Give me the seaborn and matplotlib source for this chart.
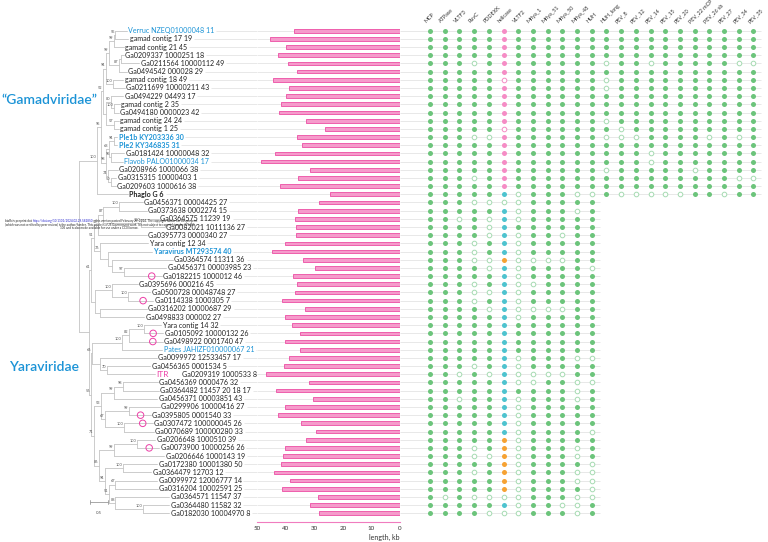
import numpy as np
import pandas as pd
import seaborn as sns
import matplotlib.pyplot as plt

sns.set_style('white')
plt.rcParams['font.family'] = ['Lato', 'DejaVu Sans']

# ---- data -------------------------------------------------------------
labels = [
    "Verruc NZEQ01000048 11", "gamad contig 17 19", "gamad contig 21 45",
    "Ga0209337 1000251 18", "Ga0211564 10000112 49", "Ga0494542 000028 29",
    "gamad contig 18 49", "Ga0211699 10000211 43", "Ga0494229 04493 17",
    "gamad contig 2 35", "Ga0494180 0000023 42", "gamad contig 24 24",
    "gamad contig 1 25", "Ple1b KY203336 30", "Ple2 KY346835 31",
    "Ga0181424 10000048 32", "Flavob PALO01000034 17", "Ga0208966 1000066 38",
    "Ga0315315 10000403 1", "Ga0209603 1000616 38", "Phaglo G 6",
    "Ga0456371 00004425 27", "Ga0373638 0002274 15", "Ga0364575 11239 19",
    "Ga0082021 1011136 27", "Ga0395773 0000340 27", "Yara contig 12 34",
    "Yaravirus MT293574 40", "Ga0364574 11311 36", "Ga0456371 00003985 23",
    "Ga0182215 1000012 46", "Ga0395696 000216 45", "Ga0500728 00048748 27",
    "Ga0114338 1000305 7", "Ga0316202 10000687 29", "Ga0498833 000002 27",
    "Yara contig 14 32", "Ga0105092 10000132 26", "Ga0498922 0001740 47",
    "Pates JAHIZF010000067 21", "Ga0099972 12533457 17", "Ga0456365 0001534 5",
    "Ga0209319 1000533 8", "Ga0456369 0000476 32", "Ga0364482 11457 20 18 17",
    "Ga0456371 00003851 43", "Ga0299906 10000416 27", "Ga0395805 0001540 33",
    "Ga0307472 100000045 26", "Ga0070689 100000280 33", "Ga0206648 1000510 39",
    "Ga0073900 10000256 26", "Ga0206646 1000143 19", "Ga0172380 10001380 50",
    "Ga0364479 12703 12", "Ga0099972 12006777 14", "Ga0316204 10002591 25",
    "Ga0364571 11547 37", "Ga0364480 11582 32", "Ga0182030 10004970 8",
]

lengths = [
    37.0, 45.4, 39.8, 42.6, 39.1, 36.0, 44.5, 38.8, 40.1, 41.6,
    42.3, 33.1, 26.2, 36.1, 34.2, 43.8, 48.7, 31.5, 35.7, 41.9,
    24.6, 28.3, 35.6, 36.8, 36.3, 36.3, 40.2, 44.7, 33.9, 29.7,
    37.6, 36.1, 36.7, 41.2, 33.2, 40.2, 37.7, 35.0, 40.2, 34.9,
    38.9, 40.5, 46.8, 31.8, 43.3, 30.4, 40.2, 42.6, 34.6, 29.6,
    32.8, 40.2, 41.0, 41.6, 44.0, 38.7, 41.5, 28.6, 31.7, 28.3,
]

blue_rows = [0, 16, 39]
blue_bold_rows = [13, 14, 27]
black_bold_rows = [20]
circle_rows = [30, 33, 37, 38, 47, 48, 51]
itr_row = 42

genes = ["MCP", "ATPase", "VLTF3", "RuvC", "PDDEXK", "helicase", "VLTF2",
         "Mriya_1", "Mriya_51", "Mriya_50", "Mriya_48", "HUH", "HUH_long",
         "PEV_8", "PEV_12", "PEV_14", "PEV_15", "PEV_20", "PEV_22 mCP",
         "PEV_26 sb", "PEV_27", "PEV_34", "PEV_35"]

# 1 = present, 0 = absent, P/p = helicase (pink) present/absent,
# T = helicase teal, O = helicase orange
presence = [
    "11111P11111111111111111", "11111P11111111111111111",
    "11111P11111111111111111", "11111P11111111111111111",
    "11101P11111101101111100", "11111P11111111111111111",
    "11111p11111101111111111", "11111P11111101111111111",
    "11111P11111111111111111", "11111P11111111111111111",
    "11111P11111111111111111", "11111P11111101111111111",
    "11111p11111110111111111", "11100P11111100011110101",
    "11111P11111111111111111", "11111P11111111101111111",
    "11111P11111111101111111", "11111P11111101111101111",
    "11101P11111111111111100", "11111P11111111111111111",
    "11111T01110010000011011",
    "111000011111", "11111T011101", "11010T011111", "11110T111111",
    "11110T011011", "11101T011111", "11101T011111", "11100O000011",
    "11110T011110", "11111T011111", "11101T001111", "11100T011111",
    "11101T011111", "11110T000011", "11111T011111", "11111T111111",
    "11111T111111", "11111T111111", "11111T111111", "11111T011100",
    "11101T011111", "11010T000011", "11111T001100", "11111T111101",
    "11011T011101", "11111T011111", "11111T011111", "11111T011111",
    "11111T011110", "11111O011111", "11101O011101", "11100O011101",
    "11111O011110", "11101O011100", "11111O011100", "11111O011110",
    "101000011100", "11111T011001", "111100011101",
]

# tree (Newick, branch lengths in substitutions/site, node labels = bootstrap)
gamad_a = ("((((0:0.31,1:0.36)55:0.04,2:0.27)99:0.14,((3:0.08,4:0.51):0.06,5:0.21)87:0.28)99:0.08,"
           "(6:0.29,7:0.33)100:0.19)94:0.08")
gamad_b = "((8:0.34,(9:0.17,10:0.13)100:0.08)80:0.14,(11:0.14,12:0.14)57:0.22):0.08"
gamad_c = ("(((13:0.09,14:0.09)94:0.15,(15:0.38,16:0.34)95:0.06)68:0.07,"
           "(17:0.27,(18:0.15,19:0.14)50:0.07)74:0.06)98:0.14")
gamad = "(((" + gamad_a + "," + gamad_b + ")52:0.06," + gamad_c + ")95:0.11,20:0.86)100:0.50"

yara_a = ("((((21:0.67,22:0.78)100:0.42,(23:0.51,24:0.68)100:1.03)87:0.15,25:1.35)53:0.11,"
          "(26:1.35,(27:1.23,(28:1.69,(29:1.18,30:1.06)97:0.32):0.11):0.24)76:0.15)51:0.08")
yara_b = "((31:0.72,(32:0.61,33:0.69)100:0.46)100:0.46,(34:1.30,35:1.22):0.14):0.11"
yara_c = ("((((36:0.49,37:0.54)100:0.42,38:0.95)82:0.19,39:1.12)100:0.83,"
          "(40:1.58,(41:1.21,42:1.33)70:0.19):0.22)66:0.04")
yara_d = ("(((43:0.97,44:1.00)98:0.26,45:1.22)99:0.35,((46:0.86,47:0.60)99:0.67,"
          "(48:0.80,49:0.83)100:0.53)67:0.11)53:0.19")
yara_e = ("(((50:0.50,51:0.61)100:0.64,52:1.39)99:0.42,((53:0.94,54:0.78)100:0.50,"
          "((55:1.16,56:1.18)67:0.18,(57:1.50,(58:0.74,59:0.74)100:0.76)88:0.18)51:0.10)94:0.17)86:0.14")
yara = ("((" + yara_a + "," + yara_b + ")61:0.06,(" + yara_c + ",(" + yara_d + "," + yara_e
        + ")71:0.10)56:0.04):0.28")
newick = "(" + gamad + "," + yara + ");"

# ---- colours ----------------------------------------------------------
BLUE = '#1b93d6'
GREEN = '#6cc47b'
GREEN_OPEN = '#a6dbb2'
PINK = '#f58cc5'
TEAL = '#4ec3cf'
ORANGE = '#f6a233'
BAR_FILL = '#f59bcb'
BAR_EDGE = '#ec4ea4'
LINE = '#e4e4e4'
TREE = '#c4c4c4'
MAGENTA = '#ec3fa7'


def parse(s):
    pos = 0

    def node():
        nonlocal pos
        kids = []
        if s[pos] == '(':
            pos += 1
            kids.append(node())
            while s[pos] == ',':
                pos += 1
                kids.append(node())
            pos += 1
        j = pos
        while s[pos] not in ':,();':
            pos += 1
        name = s[j:pos]
        bl = 0.0
        if s[pos] == ':':
            pos += 1
            j = pos
            while s[pos] not in ',();':
                pos += 1
            bl = float(s[j:pos])
        return {'name': name, 'len': bl, 'kids': kids}

    return node()


def layout(n, x0=0.0):
    n['x'] = x0 + n['len']
    if n['kids']:
        for k in n['kids']:
            layout(k, n['x'])
        n['y'] = (n['kids'][0]['y'] + n['kids'][-1]['y']) / 2
    else:
        n['y'] = int(n['name'])


root = parse(newick)
root['len'] = 0.0
layout(root)

# ---- figure -----------------------------------------------------------
W, H = 768, 542
fig = plt.figure(figsize=(W / 100, H / 100), dpi=100)
row0, step = 30.7, 8.18
ytop, ybot = row0 - step / 2, row0 + 59 * step + step / 2
bottom, height = 1 - ybot / H, (ybot - ytop) / H

x_root, unit = 79.0, 36.0
x_bar0, x_bar1 = 257.3, 400.0
ax_tree = fig.add_axes([0, bottom, x_bar0 / W, height])
ax_bar = fig.add_axes([x_bar0 / W, bottom, (x_bar1 - x_bar0) / W, height])
ax_dot = fig.add_axes([x_bar1 / W, bottom, (W - x_bar1) / W, height])
for a in (ax_tree, ax_bar, ax_dot):
    a.set_ylim(59.5, -0.5)
    a.patch.set_alpha(0)

# tree
ax_tree.set_xlim(-x_root / unit, (x_bar0 - x_root) / unit)
ax_tree.axis('off')


def draw(n):
    if not n['kids']:
        return
    ys = [k['y'] for k in n['kids']]
    ax_tree.plot([n['x'], n['x']], [min(ys), max(ys)], color=TREE, lw=0.6)
    for k in n['kids']:
        ax_tree.plot([n['x'], k['x']], [k['y'], k['y']], color=TREE, lw=0.6)
        draw(k)
    if n['name']:
        ax_tree.text(n['x'] - 0.015, n['y'] - 0.4, n['name'], fontsize=2.8,
                     color='#555555', ha='right', va='center')


draw(root)

tips = {}


def collect(n):
    if n['kids']:
        for k in n['kids']:
            collect(k)
    else:
        tips[int(n['name'])] = n['x']


collect(root)

name_texts = {}
for i, lab in enumerate(labels):
    color, weight = '#222222', 'normal'
    if i in blue_rows:
        color = BLUE
    if i in blue_bold_rows:
        color, weight = BLUE, 'bold'
    if i in black_bold_rows:
        weight = 'bold'
    x = tips[i] + 0.04
    if i == itr_row:
        itr = ax_tree.text(x, i, 'ITR', fontsize=6, color=MAGENTA, va='center')
        t = ax_tree.annotate(lab, xy=(1, 0.5), xycoords=itr, xytext=(10, 0),
                             textcoords='offset points', fontsize=5.1, va='center',
                             color=color)
    else:
        t = ax_tree.text(x, i, lab, fontsize=5.1, color=color, fontweight=weight,
                         va='center')
    name_texts[i] = t

ax_tree.scatter([tips[i] - 0.28 for i in circle_rows], circle_rows, s=22,
                facecolors='none', edgecolors=MAGENTA, linewidths=0.7, zorder=3)

# scale bar
ax_tree.plot([0.31, 0.81], [57.6, 57.6], color='#999999', lw=0.6)
ax_tree.plot([0.31, 0.31], [57.4, 57.8], color='#999999', lw=0.6)
ax_tree.plot([0.81, 0.81], [57.4, 57.8], color='#999999', lw=0.6)
ax_tree.text(0.56, 58.9, '0.5', fontsize=3.2, color='#555555', ha='center', va='center')

# bars
df_bar = pd.DataFrame({'row': np.arange(len(lengths)), 'length': lengths})
ax_bar.hlines(df_bar['row'], 50, 0, color=LINE, lw=0.6, zorder=0)
sns.barplot(data=df_bar, x='length', y='row', orient='h', color=BAR_FILL,
            saturation=1, edgecolor=BAR_EDGE, linewidth=0.6, width=0.45, ax=ax_bar)
ax_bar.set_xlim(50, 0)
ax_bar.set_ylim(59.5, -0.5)
ax_bar.set_yticks([])
ax_bar.set_ylabel('')
ax_bar.set_xticks([50, 40, 30, 20, 10, 0])
for s in ('left', 'top', 'right'):
    ax_bar.spines[s].set_visible(False)
ax_bar.spines['bottom'].set_color('#f07cbf')
ax_bar.spines['bottom'].set_linewidth(0.8)
ax_bar.spines['bottom'].set_position(('outward', 3))
ax_bar.tick_params(axis='x', direction='in', length=2.5, width=0.7, color='#f07cbf',
                   labelsize=4.5, labelcolor='#333333', pad=3)
ax_bar.set_xlabel('length, kb', loc='right', fontsize=5, color='#333333', labelpad=2)

# gene presence matrix
recs = []
for r, code in enumerate(presence):
    for c, ch in enumerate(code):
        recs.append({'row': r, 'col': c, 'state': ch})
df_dot = pd.DataFrame(recs)
xlo, xhi = -30 / 14.7, (W - 430) / 14.7
for r, code in enumerate(presence):
    ax_dot.hlines(r, xlo, len(code) - 1 + 0.55, color=LINE, lw=0.6, zorder=0)

filled = {'1': GREEN, 'P': PINK, 'T': TEAL, 'O': ORANGE}
opened = {'0': GREEN_OPEN, 'p': PINK}
for st, col in filled.items():
    sub = df_dot[df_dot['state'] == st]
    sns.scatterplot(data=sub, x='col', y='row', color=col, s=13, linewidth=0,
                    legend=False, ax=ax_dot, zorder=3)
for st, col in opened.items():
    sub = df_dot[df_dot['state'] == st]
    sns.scatterplot(data=sub, x='col', y='row', color='white', edgecolor=col,
                    s=11, linewidth=0.7, legend=False, ax=ax_dot, zorder=3)
ax_dot.set_xlim(xlo, xhi)
ax_dot.set_ylim(59.5, -0.5)
ax_dot.axis('off')
for c, g in enumerate(genes):
    ax_dot.text(c - 0.2, -0.8, g, rotation=45, rotation_mode='anchor', ha='left',
                va='bottom', fontsize=3.9, color='#333333', clip_on=False)

# row guide lines after the labels
fig.canvas.draw()
rend = fig.canvas.get_renderer()
inv = ax_tree.transData.inverted()
xr = ax_tree.get_xlim()[1]
for i, t in name_texts.items():
    bb = t.get_window_extent(rend)
    x_end = inv.transform((bb.x1, bb.y0))[0]
    ax_tree.hlines(i, x_end + 0.05, xr, color=LINE, lw=0.6, zorder=0)

# clade titles
fig.text(1 / W, 1 - 100 / H, '\u201cGamadviridae\u201d', fontsize=10, color=BLUE,
         fontweight='semibold', ha='left', va='center')
fig.text(9 / W, 1 - 367 / H, 'Yaraviridae', fontsize=10, color=BLUE,
         fontweight='semibold', ha='left', va='center')

# preprint stamp
wm1 = fig.text(5 / W, 1 - 221 / H, 'bioRxiv preprint doi: ', fontsize=2.2,
               color='#222222', va='center')
link = ax_tree.annotate('https://doi.org/10.1101/2024.02.29.582850', xy=(1, 0.5),
                        xycoords=wm1, fontsize=2.2, color='#2222cc', va='center')
ax_tree.annotate('; this version posted February 29, 2024. The copyright holder for this preprint',
                 xy=(1, 0.5), xycoords=link, fontsize=2.2, color='#222222', va='center')
fig.text(5 / W, 1 - 224.5 / H,
         '(which was not certified by peer review) is the author/funder. This article is a US '
         'Government work. It is not subject to copyright under 17 USC',
         fontsize=2.2, color='#222222', va='center')
fig.text(60 / W, 1 - 228 / H,
         '105 and is also made available for use under a CC0 license.',
         fontsize=2.2, color='#222222', va='center')

fig.savefig('out.png', dpi=100)
